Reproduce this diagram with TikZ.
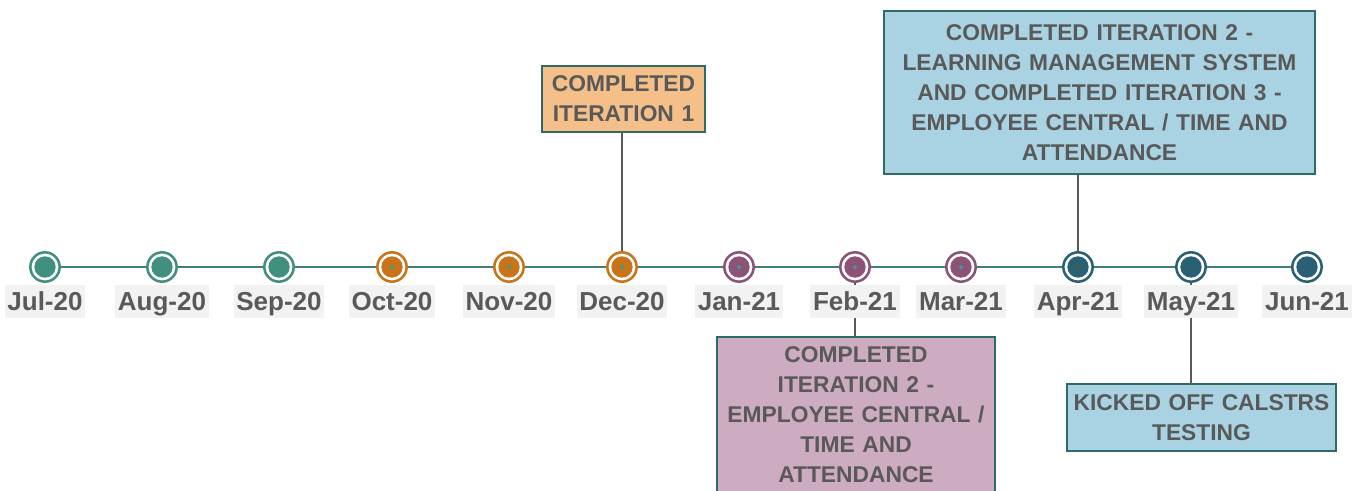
\documentclass[tikz,border=0pt]{standalone}
\usepackage{fontspec}
\setmainfont{Liberation Sans}
\usetikzlibrary{positioning}
\pgfdeclarelayer{edgelayer}
\pgfdeclarelayer{nodelayer}
\pgfsetlayers{edgelayer,nodelayer,main}
\definecolor{tealm}{HTML}{41907F}
\definecolor{orangem}{HTML}{C97418}
\definecolor{purplem}{HTML}{8C5277}
\definecolor{navym}{HTML}{2A6073}
\definecolor{dotm}{HTML}{3E9A8A}
\definecolor{olivem}{HTML}{5A5A2A}
\definecolor{txt}{HTML}{595959}
\definecolor{lblbg}{HTML}{F2F2F2}
\definecolor{axis}{HTML}{3F7F7A}
\definecolor{boxline}{HTML}{2F6B65}
\definecolor{orangebox}{HTML}{F4BF88}
\definecolor{bluebox}{HTML}{A9D3E3}
\definecolor{mauvebox}{HTML}{CDABC0}
\tikzset{every picture/.style={line width=0.5pt}}
\tikzstyle{circ}=[circle,draw,fill=white,line width=1.9pt,minimum size=22pt,inner sep=0pt]
\tikzstyle{month}=[fill=lblbg,text=txt,font=\bfseries\fontsize{19.5pt}{22pt}\selectfont,inner xsep=2pt,inner ysep=0pt,minimum height=24.75pt,text height=14pt,text depth=0pt]
\tikzstyle{note}=[draw=boxline,line width=1.5pt,text=txt,align=center,inner sep=0pt,font=\bfseries\fontsize{17.1pt}{22.5pt}\selectfont]
\tikzset{ring/.style 2 args={circ,draw=#1,path picture={
  \fill[#1] (path picture bounding box.center) circle (8pt);
  \fill[#2] (path picture bounding box.center) circle (1.5pt);}}}

\begin{document}
\begin{tikzpicture}[x=0.75pt,y=-0.75pt]
\useasboundingbox (0,0) rectangle (1365,491);
% markers
\node[ring={tealm}{tealm}] (m1) at (45,267) {};
\node[ring={tealm}{tealm}] (m2) at (162,267) {};
\node[ring={tealm}{tealm}] (m3) at (279,267) {};
\node[ring={orangem}{dotm}] (m4) at (392,267) {};
\node[ring={orangem}{dotm}] (m5) at (509,267) {};
\node[ring={orangem}{dotm}] (m6) at (622,267) {};
\node[ring={purplem}{dotm}] (m7) at (739,267) {};
\node[ring={purplem}{dotm}] (m8) at (855,267) {};
\node[ring={purplem}{dotm}] (m9) at (961,267) {};
\node[ring={navym}{olivem}] (m10) at (1078,267) {};
\node[ring={navym}{navym}] (m11) at (1191,267) {};
\node[ring={navym}{navym}] (m12) at (1307,267) {};
% month labels
\node[month] (L1) at (45,301.5) {Jul-20};
\node[month] (L2) at (162,301.5) {Aug-20};
\node[month] (L3) at (279,301.5) {Sep-20};
\node[month] (L4) at (392,301.5) {Oct-20};
\node[month] (L5) at (509,301.5) {Nov-20};
\node[month] (L6) at (622,301.5) {Dec-20};
\node[month] (L7) at (739,301.5) {Jan-21};
\node[month] (L8) at (855,301.5) {Feb-21};
\node[month] (L9) at (961,301.5) {Mar-21};
\node[month] (L10) at (1078,301.5) {Apr-21};
\node[month] (L11) at (1191,301.5) {May-21};
\node[month] (L12) at (1307,301.5) {Jun-21};
% milestones
\node[note,fill=orangebox,text width=122.5pt,minimum height=50pt] (B1) at (623.5,99)
  {COMPLETED\\ITERATION 1};
\node[note,fill=bluebox,text width=323.5pt,minimum height=122.5pt] (B2) at (1099.5,92.5)
  {COMPLETED ITERATION 2 -\\LEARNING MANAGEMENT SYSTEM\\AND COMPLETED ITERATION 3 -\\EMPLOYEE CENTRAL / TIME AND\\ATTENDANCE};
\node[note,fill=mauvebox,text width=209pt,minimum height=116.5pt] (B3) at (856,414.5)
  {COMPLETED\\ITERATION 2 -\\EMPLOYEE CENTRAL /\\TIME AND\\ATTENDANCE};
\node[note,fill=bluebox,text width=202pt,minimum height=50.5pt] (B4) at (1201.5,417.5)
  {KICKED OFF CALSTRS\\TESTING};
\begin{pgfonlayer}{edgelayer}
\draw[axis,line width=1.6pt] (m1.center) -- (m12.center);
\path[draw=txt,line width=1.1pt]
(B1.south -| m6.center) edge (m6.center)
(B2.south -| m10.center) edge (m10.center)
(m8.center) edge (m8.center |- B3.north)
(m11.center) edge (m11.center |- B4.north);
\end{pgfonlayer}
\end{tikzpicture}
\end{document}
